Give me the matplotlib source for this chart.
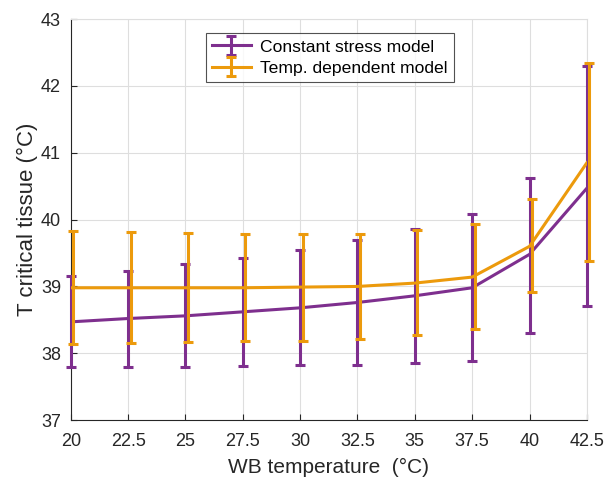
import numpy as np
import matplotlib as mpl
mpl.use('Agg')
import matplotlib.pyplot as plt
import matplotlib.transforms as mtransforms
from matplotlib.container import ErrorbarContainer
from matplotlib.legend_handler import HandlerErrorbar

plt.rcParams['font.family'] = ['Liberation Sans', 'DejaVu Sans']

# WB temperature (x) and critical tissue temperature
wb_temp = [20, 22.5, 25, 27.5, 30, 32.5, 35, 37.5, 40, 42.5]

const_mean = [38.47, 38.52, 38.56, 38.62, 38.68, 38.76, 38.86, 38.98, 39.48, 40.47]
const_low = [37.80, 37.80, 37.80, 37.81, 37.82, 37.83, 37.85, 37.88, 38.30, 38.70]
const_high = [39.15, 39.23, 39.33, 39.43, 39.55, 39.70, 39.86, 40.08, 40.62, 42.30]

temp_mean = [38.98, 38.98, 38.98, 38.98, 38.99, 39.00, 39.05, 39.14, 39.60, 40.85]
temp_low = [38.14, 38.15, 38.17, 38.18, 38.19, 38.21, 38.27, 38.36, 38.91, 39.38]
temp_high = [39.83, 39.81, 39.80, 39.79, 39.79, 39.79, 39.84, 39.94, 40.31, 42.34]

labels = ["Constant stress model", "Temp. dependent model"]
purple = '#7E2F8E'
orange = '#EC9A0C'

fig = plt.figure(figsize=(6.05, 4.79), dpi=100)
ax = fig.add_axes([0.117, 0.123, 0.853, 0.837])

cm_ = np.array(const_mean)
tm_ = np.array(temp_mean)
eb1 = ax.errorbar(wb_temp, const_mean,
                  yerr=[cm_ - np.array(const_low), np.array(const_high) - cm_],
                  color=purple, lw=2.2, elinewidth=2.2, capsize=3.6, capthick=2.2,
                  label=labels[0], zorder=3)
# orange bars sit a couple of pixels to the right, as in the original
shift = mtransforms.ScaledTranslation(2.5 / 100, 0, fig.dpi_scale_trans)
eb2 = ax.errorbar(wb_temp, temp_mean,
                  yerr=[tm_ - np.array(temp_low), np.array(temp_high) - tm_],
                  color=orange, lw=2.2, elinewidth=2.2, capsize=3.6, capthick=2.2,
                  label=labels[1], zorder=4)
for c in [eb2[1], eb2[2]]:
    for art in c:
        art.set_transform(ax.transData + shift)
for eb in [eb1, eb2]:
    for art in list(eb[1]) + list(eb[2]):
        art.set_clip_on(False)

ax.set_xlim(20, 42.5)
ax.set_ylim(37, 43)
ax.set_xticks(wb_temp)
ax.set_xticklabels(['20', '22.5', '25', '27.5', '30', '32.5', '35', '37.5', '40', '42.5'])
ax.set_yticks(np.arange(37, 44, 1))

ax.grid(True, color='#dedede', lw=0.8)
ax.set_axisbelow(True)
for s in ['top', 'right']:
    ax.spines[s].set_color('#dedede')
for s in ['left', 'bottom']:
    ax.spines[s].set_color('#262626')
ax.tick_params(direction='in', length=4, labelsize=13, colors='#262626',
               top=False, right=False)
ax.tick_params(axis='x', pad=9)
ax.tick_params(axis='y', pad=7)

ax.set_xlabel('WB temperature  (°C)', fontsize=15, color='#262626', labelpad=6)
ax.set_ylabel('T critical tissue (°C)', fontsize=16, color='#262626', labelpad=2)

leg = ax.legend(loc='upper left', bbox_to_anchor=(0.262, 0.965), fontsize=12.6,
                frameon=True, fancybox=False, edgecolor='#262626',
                handlelength=2.2, handletextpad=0.55, borderpad=0.35,
                labelspacing=0.35, borderaxespad=0,
                handler_map={ErrorbarContainer: HandlerErrorbar(xerr_size=0.5, yerr_size=0.55)})
leg.get_frame().set_linewidth(0.8)

plt.savefig('out.png', dpi=100)
plt.close()
